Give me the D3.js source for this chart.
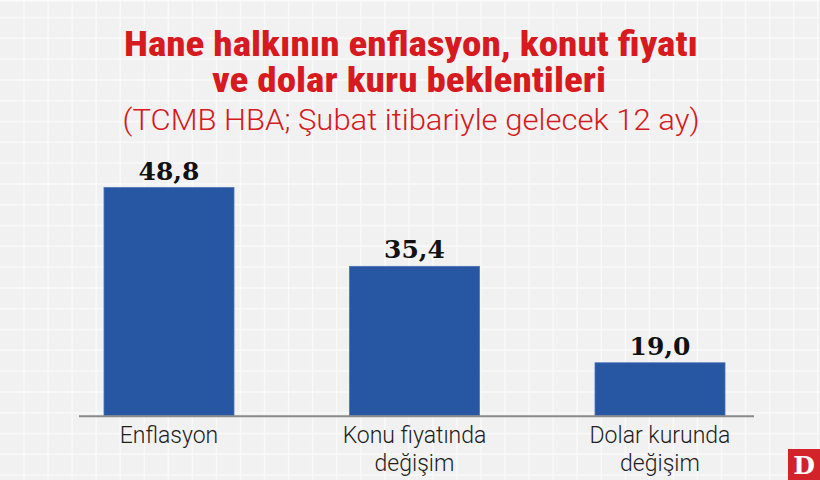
<!DOCTYPE html>
<html>
<head>
<meta charset="utf-8">
<script src="https://cdn.jsdelivr.net/npm/d3@7/dist/d3.min.js"></script>
<style>
  html, body { margin: 0; padding: 0; background: #f1f1f1; }
  svg { display: block; }
</style>
</head>
<body>
<svg id="chart" width="820" height="480"></svg>
<script>
// ---- data ----
const categories = ["Enflasyon", "Konu fiyatında değişim", "Dolar kurunda değişim"];
const categoryLines = [["Enflasyon"], ["Konu fiyatında", "değişim"], ["Dolar kurunda", "değişim"]];
const values = [48.8, 35.4, 19.0];
const valueLabels = ["48,8", "35,4", "19,0"];
const titleLines = ["Hane halkının enflasyon, konut fiyatı", "ve dolar kuru beklentileri"];
const subtitle = "(TCMB HBA; Şubat itibariyle gelecek 12 ay)";

const W = 820, H = 480;
const svg = d3.select("#chart");

// background with grid pattern
svg.append("rect").attr("width", W).attr("height", H).attr("fill", "#f1f1f1");
const gridG = svg.append("g");
d3.range(24.05, W + 1, 24.05).forEach(x => {
  gridG.append("line").attr("x1", x).attr("x2", x).attr("y1", 0).attr("y2", H)
    .attr("stroke", "#f9f9f9").attr("stroke-width", 1.5);
});
d3.range(17.5, H, 20.8).forEach(y => {
  gridG.append("line").attr("x1", 0).attr("x2", W).attr("y1", y).attr("y2", y)
    .attr("stroke", "#f9f9f9").attr("stroke-width", 1.5);
});
svg.append("line").attr("x1", 0).attr("x2", W).attr("y1", 0.75).attr("y2", 0.75)
  .attr("stroke", "#fbfbfb").attr("stroke-width", 1.5);

// titles
const titleFont = "'Roboto Condensed', 'Liberation Sans Narrow', 'DejaVu Sans Condensed', sans-serif";
const lightFont = "'Roboto Light', 'Lato Light', 'Open Sans Light', Roboto, 'Open Sans', sans-serif";
const red = "#d71920";
function fitText(sel, target) {
  sel.attr("textLength", target).attr("lengthAdjust", "spacingAndGlyphs");
}
const t1 = svg.append("text").attr("x", 411).attr("y", 56).attr("text-anchor", "middle")
  .attr("font-family", titleFont).attr("font-weight", 800).attr("font-size", 35)
  .attr("fill", red).text(titleLines[0]);
fitText(t1, 574);
const t2 = svg.append("text").attr("x", 409).attr("y", 91.5).attr("text-anchor", "middle")
  .attr("font-family", titleFont).attr("font-weight", 800).attr("font-size", 35)
  .attr("fill", red).text(titleLines[1]);
fitText(t2, 394);
const st = svg.append("text").attr("x", 411).attr("y", 130).attr("text-anchor", "middle")
  .attr("font-family", lightFont).attr("font-weight", 300).attr("font-size", 30)
  .attr("fill", red).text(subtitle);
fitText(st, 577);

// scales
const x = d3.scaleBand().domain(categories).range([77, 752])
  .paddingInner(0.4705).paddingOuter(0.11);
const y = d3.scaleLinear().domain([10, 50]).range([415.7, 180.5]);

// bars
svg.append("g").selectAll("rect").data(values).join("rect")
  .attr("x", (d, i) => x(categories[i]))
  .attr("width", x.bandwidth())
  .attr("y", d => y(d))
  .attr("height", d => y(10) - y(d))
  .attr("fill", "#2756a3")
  .attr("stroke", "#4b72b6").attr("stroke-width", 0.8);

// value labels
svg.append("g").selectAll("text").data(values).join("text")
  .attr("x", (d, i) => x(categories[i]) + x.bandwidth() / 2)
  .attr("y", d => y(d) - 8)
  .attr("text-anchor", "middle")
  .attr("font-family", "'DejaVu Serif', 'Liberation Serif', serif")
  .attr("font-weight", 700).attr("font-size", 25)
  .attr("fill", "#111")
  .text((d, i) => valueLabels[i]);

// x axis line
svg.append("line").attr("x1", 79).attr("x2", 754).attr("y1", y(10) + 0.5).attr("y2", y(10) + 0.5)
  .attr("stroke", "#8a8a8a").attr("stroke-width", 2);

// category labels
const catG = svg.append("g");
categories.forEach((c, i) => {
  const t = catG.append("text")
    .attr("x", x(c) + x.bandwidth() / 2)
    .attr("y", 443)
    .attr("text-anchor", "middle")
    .attr("font-family", lightFont)
    .attr("font-weight", 300).attr("font-size", 23)
    .attr("fill", "#1e1e1e");
  categoryLines[i].forEach((ln, j) => {
    t.append("tspan").attr("x", x(c) + x.bandwidth() / 2).attr("dy", j === 0 ? 0 : 27.5).text(ln);
  });
});

// logo
svg.append("rect").attr("x", 788).attr("y", 449).attr("width", 32).attr("height", 31).attr("fill", "#d2232a");
svg.append("text").attr("x", 804).attr("y", 474).attr("text-anchor", "middle")
  .attr("font-family", "'DejaVu Serif', serif").attr("font-weight", 700).attr("font-size", 25)
  .attr("fill", "#fff").text("D");
</script>
</body>
</html>
